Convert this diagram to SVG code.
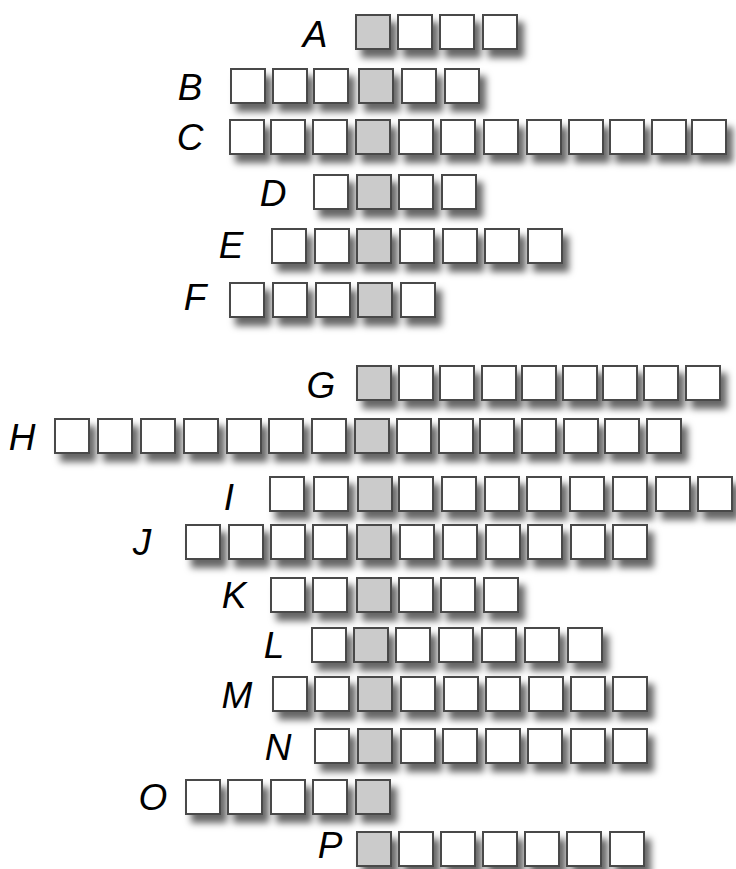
<svg xmlns="http://www.w3.org/2000/svg" width="736" height="869" viewBox="0 0 736 869">
<defs>
<filter id="sh" x="-10%" y="-30%" width="130%" height="190%">
<feDropShadow dx="6" dy="8" stdDeviation="3.5" flood-color="#000" flood-opacity="0.6"/>
</filter>
<rect id="w" width="34" height="34" fill="#fff" stroke="#4a4a4a" stroke-width="2"/>
<rect id="g" width="34" height="34" fill="#cbcbcb" stroke="#4a4a4a" stroke-width="2"/>
</defs>
<style>
.lbl{font-family:"Liberation Sans",Arial,sans-serif;font-style:italic;font-size:37px;fill:#000;text-anchor:middle}
.row{filter:url(#sh)}
</style>
<rect width="736" height="869" fill="#fff"/>
<g id="connectors"></g>

<g id="A"><text class="lbl" x="315" y="47">A</text>
<g class="row"><use href="#g" x="356" y="15"/><use href="#w" x="398" y="15"/><use href="#w" x="440" y="15"/><use href="#w" x="483" y="15"/></g></g>

<g id="B"><text class="lbl" x="190" y="100">B</text>
<g class="row"><use href="#w" x="231" y="69"/><use href="#w" x="273" y="69"/><use href="#w" x="314" y="69"/><use href="#g" x="359" y="69"/><use href="#w" x="402" y="69"/><use href="#w" x="445" y="69"/></g></g>

<g id="C"><text class="lbl" x="190" y="150">C</text>
<g class="row"><use href="#w" x="230" y="120"/><use href="#w" x="271" y="120"/><use href="#w" x="313" y="120"/><use href="#g" x="356" y="120"/><use href="#w" x="399" y="120"/><use href="#w" x="441" y="120"/><use href="#w" x="484" y="120"/><use href="#w" x="527" y="120"/><use href="#w" x="569" y="120"/><use href="#w" x="610" y="120"/><use href="#w" x="652" y="120"/><use href="#w" x="692" y="120"/></g></g>

<g id="D"><text class="lbl" x="273" y="206">D</text>
<g class="row"><use href="#w" x="314" y="175"/><use href="#g" x="357" y="175"/><use href="#w" x="399" y="175"/><use href="#w" x="442" y="175"/></g></g>

<g id="E"><text class="lbl" x="231" y="258">E</text>
<g class="row"><use href="#w" x="272" y="229"/><use href="#w" x="315" y="229"/><use href="#g" x="357" y="229"/><use href="#w" x="400" y="229"/><use href="#w" x="443" y="229"/><use href="#w" x="485" y="229"/><use href="#w" x="528" y="229"/></g></g>

<g id="F"><text class="lbl" x="195" y="310">F</text>
<g class="row"><use href="#w" x="230" y="283"/><use href="#w" x="273" y="283"/><use href="#w" x="316" y="283"/><use href="#g" x="358" y="283"/><use href="#w" x="401" y="283"/></g></g>

<g id="G"><text class="lbl" x="321" y="398">G</text>
<g class="row"><use href="#g" x="357" y="366"/><use href="#w" x="399" y="366"/><use href="#w" x="440" y="366"/><use href="#w" x="482" y="366"/><use href="#w" x="522" y="366"/><use href="#w" x="563" y="366"/><use href="#w" x="603" y="366"/><use href="#w" x="644" y="366"/><use href="#w" x="686" y="366"/></g></g>

<g id="H"><text class="lbl" x="22" y="450">H</text>
<g class="row"><use href="#w" x="55" y="419"/><use href="#w" x="98" y="419"/><use href="#w" x="141" y="419"/><use href="#w" x="184" y="419"/><use href="#w" x="227" y="419"/><use href="#w" x="269" y="419"/><use href="#w" x="312" y="419"/><use href="#g" x="355" y="419"/><use href="#w" x="397" y="419"/><use href="#w" x="439" y="419"/><use href="#w" x="480" y="419"/><use href="#w" x="522" y="419"/><use href="#w" x="564" y="419"/><use href="#w" x="605" y="419"/><use href="#w" x="647" y="419"/></g></g>

<g id="I"><text class="lbl" x="229" y="510">I</text>
<g class="row"><use href="#w" x="270" y="477"/><use href="#w" x="314" y="477"/><use href="#g" x="358" y="477"/><use href="#w" x="399" y="477"/><use href="#w" x="442" y="477"/><use href="#w" x="485" y="477"/><use href="#w" x="527" y="477"/><use href="#w" x="570" y="477"/><use href="#w" x="613" y="477"/><use href="#w" x="656" y="477"/><use href="#w" x="698" y="477"/></g></g>

<g id="J"><text class="lbl" x="142" y="555">J</text>
<g class="row"><use href="#w" x="186" y="525"/><use href="#w" x="229" y="525"/><use href="#w" x="271" y="525"/><use href="#w" x="313" y="525"/><use href="#g" x="357" y="525"/><use href="#w" x="400" y="525"/><use href="#w" x="443" y="525"/><use href="#w" x="486" y="525"/><use href="#w" x="528" y="525"/><use href="#w" x="571" y="525"/><use href="#w" x="613" y="525"/></g></g>

<g id="K"><text class="lbl" x="234" y="608">K</text>
<g class="row"><use href="#w" x="271" y="578"/><use href="#w" x="313" y="578"/><use href="#g" x="357" y="578"/><use href="#w" x="399" y="578"/><use href="#w" x="441" y="578"/><use href="#w" x="484" y="578"/></g></g>

<g id="L"><text class="lbl" x="274" y="658">L</text>
<g class="row"><use href="#w" x="312" y="628"/><use href="#g" x="354" y="628"/><use href="#w" x="396" y="628"/><use href="#w" x="439" y="628"/><use href="#w" x="482" y="628"/><use href="#w" x="525" y="628"/><use href="#w" x="568" y="628"/></g></g>

<g id="M"><text class="lbl" x="237" y="708">M</text>
<g class="row"><use href="#w" x="273" y="677"/><use href="#w" x="315" y="677"/><use href="#g" x="358" y="677"/><use href="#w" x="401" y="677"/><use href="#w" x="444" y="677"/><use href="#w" x="486" y="677"/><use href="#w" x="529" y="677"/><use href="#w" x="571" y="677"/><use href="#w" x="613" y="677"/></g></g>

<g id="N"><text class="lbl" x="278" y="760">N</text>
<g class="row"><use href="#w" x="315" y="729"/><use href="#g" x="358" y="729"/><use href="#w" x="401" y="729"/><use href="#w" x="443" y="729"/><use href="#w" x="486" y="729"/><use href="#w" x="528" y="729"/><use href="#w" x="571" y="729"/><use href="#w" x="613" y="729"/></g></g>

<g id="O"><text class="lbl" x="153" y="810">O</text>
<g class="row"><use href="#w" x="186" y="780"/><use href="#w" x="228" y="780"/><use href="#w" x="271" y="780"/><use href="#w" x="313" y="780"/><use href="#g" x="356" y="780"/></g></g>

<g id="P"><text class="lbl" x="330" y="858">P</text>
<g class="row"><use href="#g" x="357" y="832"/><use href="#w" x="399" y="832"/><use href="#w" x="441" y="832"/><use href="#w" x="483" y="832"/><use href="#w" x="525" y="832"/><use href="#w" x="567" y="832"/><use href="#w" x="610" y="832"/></g></g>
</svg>
